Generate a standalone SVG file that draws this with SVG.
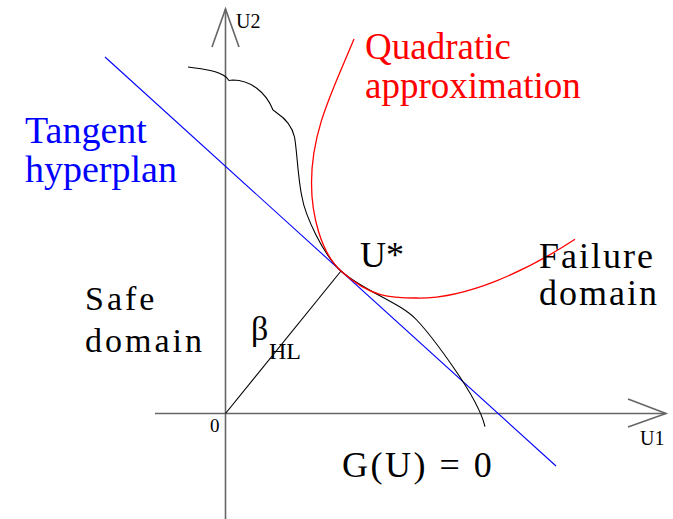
<svg xmlns="http://www.w3.org/2000/svg" width="673" height="519" viewBox="0 0 673 519">
<rect width="673" height="519" fill="#fff"/>
<g id="axes" stroke="#666" stroke-width="1.6" fill="none">
<line x1="225.5" y1="9" x2="225.5" y2="519"/>
<polyline points="212,47 225.5,9 239,47"/>
<line x1="155" y1="413.5" x2="666" y2="413.5"/>
<polyline points="628,399 666,413.5 628,427"/>
</g>
<g id="connectors" fill="none">
<line id="tangent" stroke="#00f" stroke-width="1.1" x1="105" y1="57" x2="556" y2="466"/>
<line id="beta-line" stroke="#000" stroke-width="1.1" x1="225.5" y1="413.5" x2="341" y2="271"/>
<path id="limit-state" stroke="#000" stroke-width="1.1" d="M188,67 C205,69 218,71 226,77 L229,80.5 L233,80 C250,80 266,92 273,110 L277,113 C286,119 292,126 294.5,137 C297,150 298,180 302,197 C305,215 323,254.7 341,271 C363,291 400,302 416.7,320 C428,332 478,395 485,426.7"/>
<path id="quadratic" stroke="#f00" stroke-width="1.3" d="M354,39 C333,90 311.5,130 311.5,183 C311.5,215 321,252.9 341,271 C371,298.2 392,298 416.7,298 C465,299 525,272 575,239.3"/>
</g>
<text font-family="Liberation Serif,serif" font-size="20" x="236" y="28">U2</text>
<text font-family="Liberation Serif,serif" font-size="20" x="640" y="445">U1</text>
<text font-family="Liberation Serif,serif" font-size="19" x="210" y="432">0</text>
<text font-family="Liberation Serif,serif" font-size="38" fill="#00f" x="25" y="143">Tangent</text>
<text font-family="Liberation Serif,serif" font-size="38" fill="#00f" x="25" y="182">hyperplan</text>
<text font-family="Liberation Serif,serif" font-size="37" fill="#f00" x="365" y="59">Quadratic</text>
<text font-family="Liberation Serif,serif" font-size="37" fill="#f00" x="365" y="98">approximation</text>
<text font-family="Liberation Serif,serif" font-size="36" x="360" y="267">U*</text>
<text font-family="Liberation Serif,serif" font-size="36" x="539" y="268" letter-spacing="2">Failure</text>
<text font-family="Liberation Serif,serif" font-size="36" x="539" y="305" letter-spacing="2">domain</text>
<text font-family="Liberation Serif,serif" font-size="34" x="85" y="310" letter-spacing="3">Safe</text>
<text font-family="Liberation Serif,serif" font-size="34" x="85" y="352" letter-spacing="3">domain</text>
<text font-family="Liberation Serif,serif" font-size="34" x="251" y="340">β</text>
<text font-family="Liberation Serif,serif" font-size="24" x="269" y="359">HL</text>
<text font-family="Liberation Serif,serif" font-size="36" x="342" y="477" letter-spacing="2.5">G(U) = 0</text>
</svg>
